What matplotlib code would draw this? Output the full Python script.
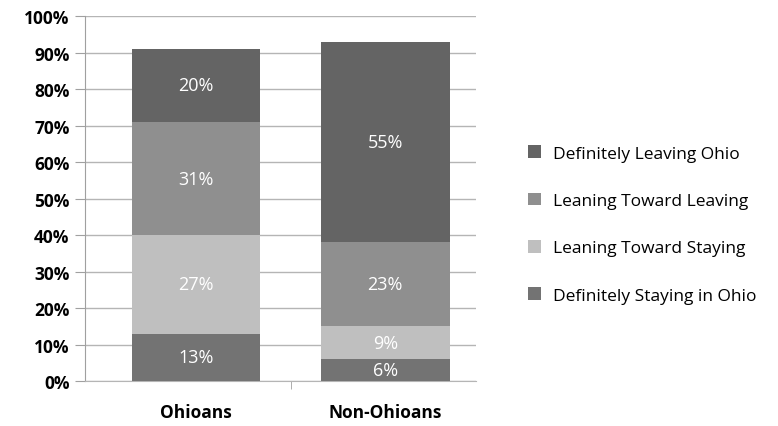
import matplotlib.pyplot as plt
import numpy as np

# --- data ---
categories = ['Ohioans', 'Non-Ohioans']
series_names = ['Definitely Staying in Ohio', 'Leaning Toward Staying',
                'Leaning Toward Leaving', 'Definitely Leaving Ohio']
staying_def = [13, 6]
staying_lean = [27, 9]
leaving_lean = [31, 23]
leaving_def = [20, 55]
yticks = [0, 10, 20, 30, 40, 50, 60, 70, 80, 90, 100]

colors = ['#737373', '#bfbfbf', '#8f8f8f', '#646464']
series = [staying_def, staying_lean, leaving_lean, leaving_def]

plt.rcParams['font.family'] = ['Open Sans', 'DejaVu Sans']

fig = plt.figure(figsize=(7.78, 4.27), dpi=100)
ax = fig.add_axes([0.109, 0.105, 0.503, 0.855])

x = np.arange(len(categories))
bottom = np.zeros(len(categories))
for name, vals, col in zip(series_names, series, colors):
    vals = np.array(vals, dtype=float)
    ax.bar(x, vals, 0.68, bottom=bottom, color=col, label=name, zorder=3)
    for xi, v, bt in zip(x, vals, bottom):
        ax.text(xi, bt + v / 2, f'{int(v)}%', ha='center', va='center',
                color='white', fontsize=13, zorder=4)
    bottom += vals

ax.set_xlim(-0.587, 1.48)
ax.set_ylim(0, 100)
ax.set_yticks(yticks)
ax.set_yticklabels([f'{t}%' for t in yticks], fontweight='bold', fontsize=12.5)
ax.set_xticks(x)
ax.set_xticklabels(categories, fontweight='bold', fontsize=12.5)
ax.tick_params(axis='x', length=0, pad=16)
ax.tick_params(axis='y', length=7, color='#a0a0a0', pad=4)
ax.set_xticks([0.5], minor=True)
ax.tick_params(axis='x', which='minor', length=6, color='#a0a0a0', direction='out')

ax.grid(axis='y', color='#b5b5b5', linewidth=1, zorder=0)
for s in ['top', 'right']:
    ax.spines[s].set_visible(False)
ax.spines['left'].set_color('#a0a0a0')
ax.spines['bottom'].set_color('#b5b5b5')

handles, labels = ax.get_legend_handles_labels()
fig.legend(handles[::-1], labels[::-1], loc='center left',
           bbox_to_anchor=(0.658, 0.472), frameon=False, fontsize=12.5,
           handlelength=0.75, handleheight=0.75, labelspacing=1.78,
           handletextpad=0.7)

fig.savefig('out.png', dpi=100)
